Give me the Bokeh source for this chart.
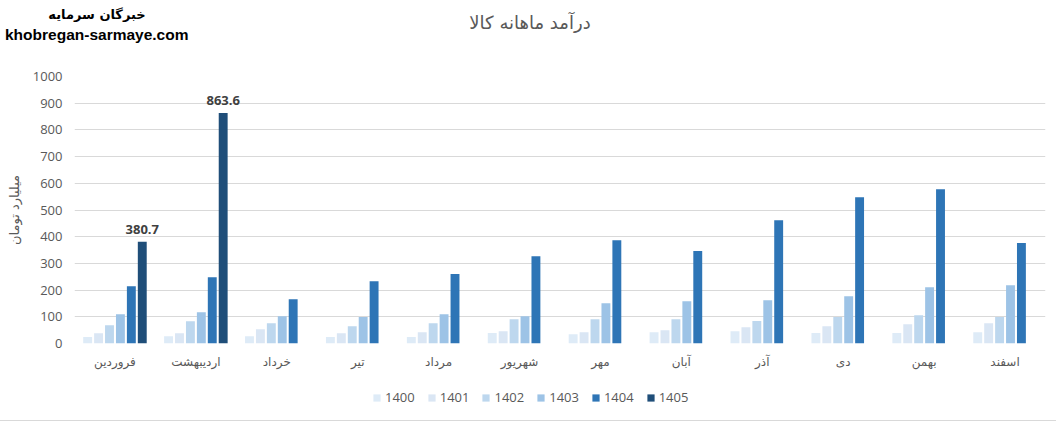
import math

from bokeh.plotting import figure
from bokeh.layouts import column
from bokeh.models import ColumnDataSource, Div, FixedTicker, Legend, LegendItem
from bokeh.transform import dodge
from bokeh.core.properties import value
from bokeh.embed import file_html
from bokeh.resources import INLINE

# data (billion toman, per month)
months = ["فروردین", "اردیبهشت", "خرداد", "تیر", "مرداد", "شهریور",
          "مهر", "آبان", "آذر", "دی", "بهمن", "اسفند"]
years = ["1400", "1401", "1402", "1403", "1404", "1405"]

nan = float("nan")
v1400 = [24, 27, 27, 24, 24, 39, 35, 42, 46, 39, 39, 42]
v1401 = [38, 38, 53, 38, 42, 46, 42, 50, 61, 65, 72, 76]
v1402 = [68, 83, 76, 65, 76, 91, 91, 91, 84, 99, 106, 99]
v1403 = [110, 117, 102, 99, 110, 102, 151, 158, 162, 177, 211, 218]
v1404 = [214, 248, 166, 233, 260, 327, 387, 346, 462, 548, 578, 376]
v1405 = [380.7, 863.6, nan, nan, nan, nan, nan, nan, nan, nan, nan, nan]

y_ticks = [0, 100, 200, 300, 400, 500, 600, 700, 800, 900, 1000]

title_text = "درآمد ماهانه کالا"
site_fa = "خبرگان سرمایه"
site_en = "khobregan-sarmaye.com"
y_label = "میلیارد تومان"

series = [v1400, v1401, v1402, v1403, v1404, v1405]
colors = ["#deebf7", "#dae6f4", "#bdd7ee", "#9dc3e6", "#2e75b6", "#1f4e79"]
gray = "#595959"

data = dict(month=months)
for yr, vals in zip(years, series):
    data["y" + yr] = vals
source = ColumnDataSource(data)

# labels only for the 1405 bars that exist
lab_m = [m for m, v in zip(months, v1405) if not math.isnan(v)]
lab_v = [v for v in v1405 if not math.isnan(v)]
lab_source = ColumnDataSource(dict(month=lab_m, val=lab_v, txt=["%.1f" % v for v in lab_v]))

# header: site mark on the left, chart title in the middle
header_html = (
    '<div style="position:relative;width:1056px;height:60px;">'
    '<span style="position:absolute;left:97px;top:14px;transform:translate(-50%,-50%);'
    "font:bold 13px 'DejaVu Sans';color:#000;white-space:nowrap;\">" + site_fa + "</span>"
    '<span style="position:absolute;left:5px;top:35px;transform:translateY(-50%);'
    "font:bold 15.5px 'Liberation Sans';color:#000;white-space:nowrap;\">" + site_en + "</span>"
    '<span style="position:absolute;left:530px;top:22px;transform:translate(-50%,-50%);'
    "font:18px 'DejaVu Sans';color:" + gray + ";white-space:nowrap;\">" + title_text + "</span>"
    "</div>"
)
header = Div(text=header_html, width=1056, height=60, margin=0)

p = figure(
    x_range=months,
    y_range=(0, 1000),
    frame_width=971,
    frame_height=267,
    min_border_left=74,
    min_border_right=11,
    min_border_top=16,
    min_border_bottom=30,
    toolbar_location=None,
    output_backend="svg",
    title=None,
)
p.outline_line_color = None
p.background_fill_color = "white"
p.border_fill_color = "white"

p.xgrid.grid_line_color = None
p.ygrid.grid_line_color = "#d9d9d9"
p.ygrid.grid_line_width = 1

p.yaxis.ticker = FixedTicker(ticks=y_ticks)
p.yaxis.axis_line_color = None
p.yaxis.major_tick_line_color = None
p.yaxis.minor_tick_line_color = None
p.yaxis.major_tick_out = 0
p.yaxis.major_label_standoff = 12
p.yaxis.major_label_text_font = "Open Sans"
p.yaxis.major_label_text_font_size = "13px"
p.yaxis.major_label_text_color = gray
p.yaxis.axis_label = y_label
p.yaxis.axis_label_text_font = "DejaVu Sans"
p.yaxis.axis_label_text_font_style = "normal"
p.yaxis.axis_label_text_font_size = "13px"
p.yaxis.axis_label_text_color = gray
p.yaxis.axis_label_standoff = 8

p.xaxis.axis_line_color = None
p.xaxis.major_tick_line_color = None
p.xaxis.minor_tick_line_color = None
p.xaxis.major_tick_out = 0
p.xaxis.major_label_standoff = 11
p.xaxis.major_label_text_font = "DejaVu Sans"
p.xaxis.major_label_text_font_size = "12px"
p.xaxis.major_label_text_color = gray

pitch = 0.135
bar_w = 0.11
for i, (yr, c) in enumerate(zip(years, colors)):
    off = (i - 2.5) * pitch
    p.vbar(x=dodge("month", off, range=p.x_range), top="y" + yr, width=bar_w,
           source=source, fill_color=c, line_color=None)

p.text(x=dodge("month", 2.5 * pitch, range=p.x_range), y="val", text="txt", source=lab_source,
       text_align="center", text_baseline="bottom", y_offset=-8,
       text_font=value("Open Sans"), text_font_style="bold", text_font_size="13px",
       text_color="#404040")

# legend strip under the chart (its own small canvas so nothing gets clipped);
# the column lines its frame up with the chart frame, so x is from x=74
lf = figure(width=1056, height=47, x_range=(0, 1), y_range=(0, 1),
            x_axis_type=None, y_axis_type=None, min_border=0,
            toolbar_location=None, output_backend="svg", title=None)
lf.outline_line_color = None
lf.xgrid.grid_line_color = None
lf.ygrid.grid_line_color = None
items = []
for yr, c in zip(years, colors):
    # swatch-only renderer, its single bar sits off the visible range
    r = lf.vbar(x=[-10], top=[0], width=0.1, fill_color=c, line_color=None)
    items.append(LegendItem(label=yr, renderers=[r]))

legend = Legend(items=items, orientation="horizontal", location=(298, 14),
                glyph_width=9, glyph_height=9, label_standoff=4, spacing=12,
                padding=0, margin=0, border_line_color=None, background_fill_alpha=0,
                label_text_font="Open Sans", label_text_font_size="13px",
                label_text_color=gray)
lf.add_layout(legend)

# thin gray rule under the chart
footer = Div(text="", width=1056, height=1, margin=0, styles={"background-color": "#d9d9d9"})

layout = column(header, p, lf, footer, spacing=0)
open("out.html", "w").write(file_html(layout, INLINE))
